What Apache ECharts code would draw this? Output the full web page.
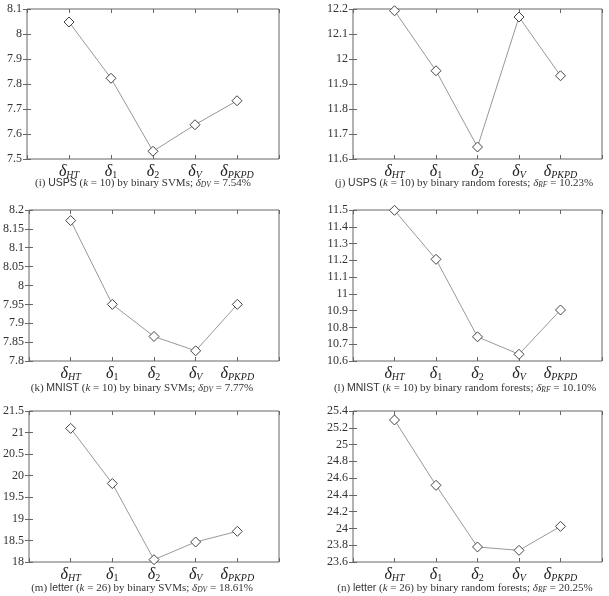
<!DOCTYPE html>
<html>
<head>
<meta charset="utf-8">
<script src="https://cdn.jsdelivr.net/npm/echarts@6/dist/echarts.min.js"></script>
<style>
  html, body { margin: 0; padding: 0; background: #fff; }
  #chart { width: 609px; height: 596px; }
</style>
</head>
<body>
<div id="chart"></div>
<script>
// x categories: subscript of delta, and whether it is italic
const catSubs = ['HT', '1', '2', 'V', 'PKPD'];
const catItalic = [true, false, false, true, true];

// error rates (%)
const uspsSvm = [8.048, 7.823, 7.531, 7.637, 7.733];
const uspsRf = [12.193, 11.953, 11.648, 12.168, 11.933];
const mnistSvm = [8.172, 7.950, 7.865, 7.827, 7.950];
const mnistRf = [11.498, 11.206, 10.744, 10.640, 10.904];
const letterSvm = [21.097, 19.819, 18.054, 18.464, 18.711];
const letterRf = [25.293, 24.514, 23.779, 23.739, 24.025];

// y ranges: [min, max, interval]
const yRanges = [
  [7.5, 8.1, 0.1], [11.6, 12.2, 0.1],
  [7.8, 8.2, 0.05], [10.6, 11.5, 0.1],
  [18, 21.5, 0.5], [23.6, 25.4, 0.2]
];

// captions: [label, dataset, k, method, baseline name, baseline value]
const captions = [
  ['(i)', 'USPS', '10', 'binary SVMs', 'DV', '7.54%'],
  ['(j)', 'USPS', '10', 'binary random forests', 'RF', '10.23%'],
  ['(k)', 'MNIST', '10', 'binary SVMs', 'DV', '7.77%'],
  ['(l)', 'MNIST', '10', 'binary random forests', 'RF', '10.10%'],
  ['(m)', 'letter', '26', 'binary SVMs', 'DV', '18.61%'],
  ['(n)', 'letter', '26', 'binary random forests', 'RF', '20.25%']
];

const allData = [uspsSvm, uspsRf, mnistSvm, mnistRf, letterSvm, letterRf];

const serif = 'Liberation Serif';
const sans = 'Liberation Sans';

const grids = [
  { left: 27, top: 9, width: 252, height: 150 },
  { left: 353, top: 9, width: 249, height: 150 },
  { left: 27, top: 210, width: 252, height: 151 },
  { left: 353, top: 210, width: 249, height: 151 },
  { left: 27, top: 411, width: 252, height: 151 },
  { left: 353, top: 411, width: 249, height: 151 }
];
const captionPos = [[143, 183], [464, 183], [142, 388], [465, 388], [142, 588], [465, 588]];

const xRich = {
  d: { fontFamily: serif, fontSize: 16, fontStyle: 'italic', color: '#222', lineHeight: 16 },
  si: { fontFamily: serif, fontSize: 10, fontStyle: 'italic', color: '#222', lineHeight: 10, verticalAlign: 'bottom', padding: [9, 0, 0, 0] },
  sn: { fontFamily: serif, fontSize: 10, color: '#222', lineHeight: 10, verticalAlign: 'bottom', padding: [9, 0, 0, 0] }
};

const option = {
  animation: false,
  backgroundColor: '#fff',
  grid: [],
  xAxis: [],
  yAxis: [],
  series: [],
  graphic: []
};

grids.forEach((g, i) => {
  option.grid.push(Object.assign({ show: true, borderColor: '#666', borderWidth: 1, backgroundColor: 'transparent' }, g));
  const [ymin, ymax, yint] = yRanges[i];
  // bottom x axis with labels
  option.xAxis.push({
    type: 'value', gridIndex: i, min: 0, max: 6, interval: 1, position: 'bottom',
    axisLine: { show: false },
    axisTick: { show: true, inside: true, length: 4, lineStyle: { color: '#666' } },
    splitLine: { show: false },
    axisLabel: {
      margin: 5,
      formatter: v => {
        if (v < 1 || v > 5) return '';
        const s = catSubs[v - 1];
        return '{d|δ}{' + (catItalic[v - 1] ? 'si' : 'sn') + '|' + s + '}';
      },
      rich: xRich
    }
  });
  // top mirror ticks
  option.xAxis.push({
    type: 'value', gridIndex: i, min: 0, max: 6, interval: 1, position: 'top',
    axisLine: { show: false },
    axisTick: { show: true, inside: true, length: 4, lineStyle: { color: '#666' } },
    splitLine: { show: false },
    axisLabel: { show: false }
  });
  option.yAxis.push({
    type: 'value', gridIndex: i, min: ymin, max: ymax, interval: yint, position: 'left',
    axisLine: { show: false },
    axisTick: { show: true, inside: true, length: 4, lineStyle: { color: '#666' } },
    splitLine: { show: false },
    axisLabel: { margin: 5, fontFamily: serif, fontSize: 12, color: '#333' }
  });
  option.yAxis.push({
    type: 'value', gridIndex: i, min: ymin, max: ymax, interval: yint, position: 'right',
    axisLine: { show: false },
    axisTick: { show: true, inside: true, length: 4, lineStyle: { color: '#666' } },
    splitLine: { show: false },
    axisLabel: { show: false }
  });
  option.series.push({
    type: 'line',
    xAxisIndex: 2 * i,
    yAxisIndex: 2 * i,
    data: allData[i].map((v, j) => [j + 1, v]),
    symbol: 'diamond',
    symbolSize: 10,
    showSymbol: true,
    lineStyle: { color: '#999', width: 1 },
    itemStyle: { color: '#fff', borderColor: '#444', borderWidth: 1 },
    z: 3
  });
  const c = captions[i];
  option.graphic.push({
    type: 'text',
    x: captionPos[i][0],
    y: captionPos[i][1],
    style: {
      text: '{a|' + c[0] + ' }{sf|' + c[1] + '}{a| (}{it|k}{a| = ' + c[2] + ') by ' + c[3] + '; }{it|δ}{sub|' + c[4] + '}{a| = ' + c[5] + '}',
      align: 'center',
      verticalAlign: 'middle',
      rich: {
        a: { fontFamily: serif, fontSize: 11, fill: '#333', lineHeight: 12 },
        sf: { fontFamily: sans, fontSize: 10.5, fill: '#333', lineHeight: 12 },
        it: { fontFamily: serif, fontSize: 11, fontStyle: 'italic', fill: '#333', lineHeight: 12 },
        sub: { fontFamily: serif, fontSize: 7.5, fontStyle: 'italic', fill: '#333', lineHeight: 8, verticalAlign: 'bottom', padding: [6, 0, 0, 0] }
      }
    }
  });
});

const chart = echarts.init(document.getElementById('chart'), null, { renderer: 'canvas' });
chart.setOption(option);
</script>
</body>
</html>
